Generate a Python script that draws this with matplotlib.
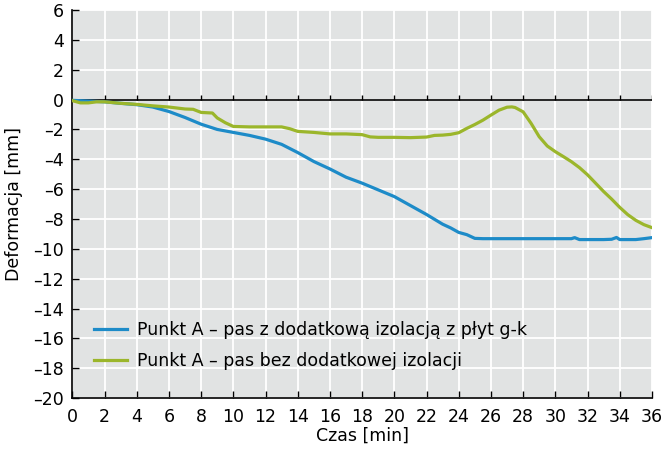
import matplotlib
matplotlib.use("Agg")
import matplotlib.pyplot as plt

plt.rcParams['font.family'] = ['DejaVu Sans']

# Blue series: strip with additional g-k board insulation
t_blue = [0, 1, 2, 3, 4, 5, 6, 7, 8, 9, 10, 11, 12, 13, 14, 15, 16, 17, 18, 19,
          20, 21, 22, 23, 23.5, 24, 24.5, 25, 25.5, 26, 28, 30, 31, 31.2, 31.5,
          32, 33, 33.5, 33.8, 34, 35, 35.5, 36]
v_blue = [-0.05, -0.1, -0.15, -0.25, -0.34, -0.5, -0.8, -1.2, -1.65, -2.0, -2.2,
          -2.4, -2.65, -3.0, -3.55, -4.15, -4.65, -5.2, -5.6, -6.05, -6.5, -7.1,
          -7.7, -8.35, -8.6, -8.9, -9.05, -9.3, -9.32, -9.32, -9.32, -9.32, -9.32,
          -9.25, -9.38, -9.38, -9.38, -9.36, -9.24, -9.38, -9.38, -9.32, -9.25]

# Green series: strip without additional insulation
t_green = [0, 0.5, 1, 1.5, 2, 3, 4, 5, 6, 7, 7.5, 8, 8.7, 9, 9.5, 10, 11, 12, 13,
           13.5, 14, 15, 16, 17, 18, 18.5, 19, 20, 21, 22, 22.5, 23, 23.5, 24,
           24.5, 25, 25.5, 26, 26.5, 27, 27.3, 27.5, 28, 28.5, 29, 29.5, 30, 30.5,
           31, 31.5, 32, 32.5, 33, 33.5, 34, 34.5, 35, 35.5, 36]
v_green = [-0.07, -0.22, -0.22, -0.15, -0.15, -0.25, -0.32, -0.42, -0.5, -0.63,
           -0.65, -0.86, -0.9, -1.23, -1.55, -1.8, -1.83, -1.83, -1.83, -1.95,
           -2.13, -2.2, -2.3, -2.3, -2.35, -2.5, -2.53, -2.53, -2.55, -2.51, -2.4,
           -2.38, -2.33, -2.22, -1.93, -1.67, -1.38, -1.04, -0.71, -0.51, -0.49,
           -0.53, -0.82, -1.6, -2.49, -3.11, -3.49, -3.82, -4.16, -4.56, -5.04,
           -5.6, -6.16, -6.67, -7.22, -7.71, -8.09, -8.38, -8.58]

label_blue = 'Punkt A – pas z dodatkową izolacją z płyt g-k'
label_green = 'Punkt A – pas bez dodatkowej izolacji'
xticks = list(range(0, 37, 2))
yticks = list(range(-20, 7, 2))

fig = plt.figure(figsize=(6.7, 4.57), dpi=100)
ax = fig.add_axes([0.108, 0.129, 0.865, 0.849])
ax.set_facecolor('#e1e3e3')

ax.set_xlim(0, 36)
ax.set_ylim(-20, 6)
ax.set_xticks(xticks)
ax.set_yticks(yticks)
ax.set_yticklabels([str(y).replace('-', '\u2013') for y in yticks])
ax.grid(True, color='white', linewidth=1.3)
ax.set_axisbelow(True)

for s in ['top', 'right']:
    ax.spines[s].set_visible(False)
for s in ['left', 'bottom']:
    ax.spines[s].set_linewidth(1.2)
    ax.spines[s].set_color('black')

ax.tick_params(direction='in', length=5, width=1, labelsize=12.5)
ax.tick_params(axis='x', pad=7)
ax.tick_params(axis='y', pad=6)

# zero line with small ticks pointing up
ax.axhline(0, color='black', linewidth=1.2, zorder=2)
ax.vlines(xticks[1:], 0, 0.28, color='black', linewidth=1, zorder=2)

ax.plot(t_blue, v_blue, color='#1d8bc8', linewidth=2.3, label=label_blue, zorder=3)
ax.plot(t_green, v_green, color='#9bb62b', linewidth=2.3, label=label_green, zorder=3)

ax.set_xlabel('Czas [min]', fontsize=12.5, labelpad=1)
ax.set_ylabel('Deformacja [mm]', fontsize=12.5, labelpad=7)

ax.legend(loc='lower left', bbox_to_anchor=(0.01, 0.033), frameon=False,
          fontsize=12.5, handlelength=1.9, handletextpad=0.6, labelspacing=0.75)

fig.savefig('out.png', dpi=100)
